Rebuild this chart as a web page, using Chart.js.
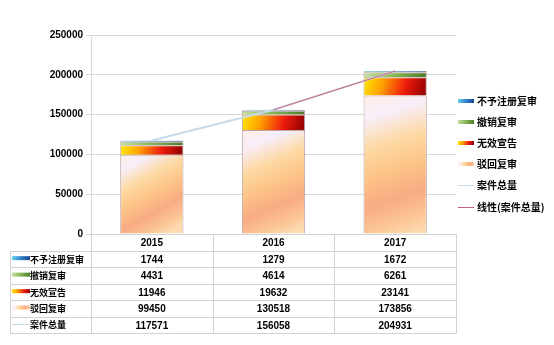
<!DOCTYPE html>
<html>
<head>
<meta charset="utf-8">
<script src="https://cdn.jsdelivr.net/npm/chart.js@4"></script>
<style>
  html, body { margin: 0; padding: 0; background: #fff; }
  #wrap { width: 554px; height: 345px; }
</style>
</head>
<body>
<div id="wrap"><canvas id="c" width="554" height="345"></canvas></div>
<script>
const years = ['2015', '2016', '2017'];
const buhui = [99450, 130518, 173856];   // 驳回复审
const wuxiao = [11946, 19632, 23141];    // 无效宣告
const chexiao = [4431, 4614, 6261];      // 撤销复审
const buyu = [1744, 1279, 1672];         // 不予注册复审
const total = [117571, 156058, 204931];  // 案件总量
const trend = [null, 156000, 204800];    // 线性(案件总量), only the visible part
const yTicks = ['0', '50000', '100000', '150000', '200000', '250000'];

const stacks = [buhui, wuxiao, chexiao, buyu];

// gradient stops for each stacked series
const fills = [
    [[0, '#fdeee6'], [0.16, '#f8eefa'], [0.36, '#fdd9a4'], [0.55, '#fdc487'], [0.74, '#f9ab84'], [0.9, '#fbc594'], [1, '#fdd9b0']],
    [[0, '#ffe800'], [0.3, '#ffa000'], [0.65, '#ee1c0c'], [1, '#8a0000']],
    [[0, '#c8e0a4'], [0.45, '#8cba58'], [1, '#4a7a26']],
    [[0, '#66d2f2'], [0.5, '#2f86cc'], [1, '#1a3f8e']],
];
const solid = ['#fcc98a', '#ff6000', '#8fb85a', '#2f86cc'];

function makeGrad(c, stops, x0, y0, x1, y1) {
    const g = c.createLinearGradient(x0, y0, x1, y1);
    stops.forEach(s => g.addColorStop(s[0], s[1]));
    return g;
}

function barFill(k) {
    return function(context) {
        const chart = context.chart;
        const xs = chart.scales.x, ys = chart.scales.y;
        if (!chart.chartArea || !xs || !ys) return solid[k];
        const j = context.dataIndex;
        let base = 0;
        for (let i = 0; i < k; i++) base += stacks[i][j];
        const yTop = ys.getPixelForValue(base + stacks[k][j]);
        const yBot = ys.getPixelForValue(base);
        const xc = xs.getPixelForValue(j);
        const half = chart.chartArea.width / 3 * 0.52 / 2;
        if (!isFinite(yTop) || !isFinite(xc)) return solid[k];
        if (k === 0) return makeGrad(chart.ctx, fills[k], xc - half, yTop, xc + half * 0.4, yBot);
        return makeGrad(chart.ctx, fills[k], xc - half, yTop, xc + half, yBot);
    };
}

const tablePlugin = {
    id: 'tablePlugin',
    afterDraw(chart) {
        const c = chart.ctx;
        const a = chart.chartArea;
        const w = (a.right - a.left) / 3;
        const rowY = [234, 251, 267.3, 284, 300.3, 316.7, 333];
        const labelLeft = 10;
        c.save();
        c.strokeStyle = '#d2d2d2';
        c.lineWidth = 1;
        c.beginPath();
        c.moveTo(a.left, rowY[0] + 0.5); c.lineTo(a.right, rowY[0] + 0.5);
        for (let r = 1; r < rowY.length; r++) {
            const y = Math.round(rowY[r]) + 0.5;
            c.moveTo(labelLeft, y); c.lineTo(a.right, y);
        }
        c.moveTo(labelLeft + 0.5, Math.round(rowY[1])); c.lineTo(labelLeft + 0.5, 333.5);
        for (let i = 0; i <= 3; i++) {
            const x = Math.round(a.left + w * i) + 0.5;
            c.moveTo(x, rowY[0]); c.lineTo(x, 333.5);
        }
        c.stroke();

        c.fillStyle = '#000';
        c.textAlign = 'center';
        c.textBaseline = 'middle';
        c.font = 'bold 10px "Liberation Sans", Arial, sans-serif';
        years.forEach((yr, i) => c.fillText(yr, a.left + w * (i + 0.5), (rowY[0] + rowY[1]) / 2 + 1));

        const rows = [
            ['不予注册复审', buyu, 3],
            ['撤销复审', chexiao, 2],
            ['无效宣告', wuxiao, 1],
            ['驳回复审', buhui, 0],
            ['案件总量', total, -1],
        ];
        rows.forEach((row, r) => {
            const yc = (rowY[r + 1] + rowY[r + 2]) / 2;
            c.font = 'bold 10px "Liberation Sans", Arial, sans-serif';
            c.textAlign = 'center';
            row[1].forEach((v, i) => c.fillText(String(v), a.left + w * (i + 0.5), yc + 1));
            drawKey(c, row[2], 12, yc - 1, 18);
            c.textAlign = 'left';
            c.font = 'bold 9px "Noto Sans CJK SC", sans-serif';
            c.fillText(row[0], 30, yc);
        });

        // legend at right
        const legend = [
            ['不予注册复审', 3, 101],
            ['撤销复审', 2, 122],
            ['无效宣告', 1, 143],
            ['驳回复审', 0, 164],
            ['案件总量', -1, 185],
            ['线性(案件总量)', -2, 207],
        ];
        legend.forEach(item => {
            drawKey(c, item[1], 458, item[2], 16);
            c.fillStyle = '#000';
            c.textAlign = 'left';
            c.textBaseline = 'middle';
            c.font = 'bold 10px "Noto Sans CJK SC", sans-serif';
            c.fillText(item[0], 477, item[2]);
        });
        c.restore();
    }
};

function drawKey(c, k, x, y, len) {
    c.save();
    if (k >= 0) {
        c.fillStyle = makeGrad(c, fills[k], x, y - 2, x + len, y + 2);
        c.fillRect(x, y - 2, len, 4);
    } else {
        c.strokeStyle = k === -1 ? '#c9dcea' : '#c8607a';
        c.lineWidth = 1;
        c.beginPath();
        c.moveTo(x, Math.round(y) + 0.5); c.lineTo(x + len, Math.round(y) + 0.5);
        c.stroke();
    }
    c.restore();
}

const barNames = ['驳回复审', '无效宣告', '撤销复审', '不予注册复审'];
const datasets = stacks.map((vals, k) => ({
    type: 'bar',
    label: barNames[k],
    data: vals,
    stack: 'bars',
    backgroundColor: barFill(k),
    borderColor: 'rgba(165,135,135,0.75)',
    borderWidth: 1,
    categoryPercentage: 1,
    barPercentage: 0.52,
    order: 2,
}));
datasets.push({
    type: 'line',
    label: '案件总量',
    data: total,
    stack: 'total',
    borderColor: '#c6dbea',
    borderWidth: 2,
    pointRadius: 0,
    order: 1,
});
datasets.push({
    type: 'line',
    label: '线性(案件总量)',
    data: trend,
    stack: 'trend',
    borderColor: '#cc6680',
    borderWidth: 1,
    pointRadius: 0,
    order: 0,
});

new Chart(document.getElementById('c'), {
    data: { labels: years, datasets },
    options: {
        responsive: false,
        animation: false,
        layout: { padding: { top: 35, right: 98, bottom: 111, left: 0 } },
        plugins: { legend: { display: false }, tooltip: { enabled: false } },
        scales: {
            x: { display: false, stacked: true },
            y: {
                stacked: true,
                min: 0,
                max: 250000,
                afterFit(scale) { scale.width = 91; },
                ticks: {
                    stepSize: 50000,
                    padding: 3,
                    color: '#000',
                    font: { family: '"Liberation Sans", Arial, sans-serif', size: 10, weight: 'bold' },
                    callback: (v, i) => yTicks[i],
                },
                grid: { color: '#d9d9d9', tickLength: 5 },
                border: { color: '#d9d9d9' },
            },
        },
    },
    plugins: [tablePlugin],
});
</script>
</body>
</html>
